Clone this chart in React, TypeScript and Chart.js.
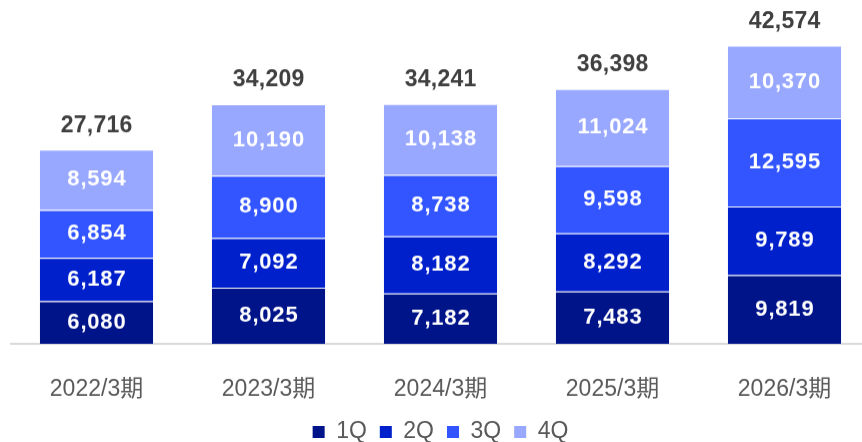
import { useEffect, useRef } from 'react';
import { Chart, registerables } from 'chart.js';

Chart.register(...registerables);

const categories = ['2022/3期', '2023/3期', '2024/3期', '2025/3期', '2026/3期'];
const q1 = [6080, 8025, 7182, 7483, 9819];
const q2 = [6187, 7092, 8182, 8292, 9789];
const q3 = [6854, 8900, 8738, 9598, 12595];
const q4 = [8594, 10190, 10138, 11024, 10370];
const totals = [27716, 34209, 34241, 36398, 42574];
const seriesNames = ['1Q', '2Q', '3Q', '4Q'];
const seriesColors = ['#001489', '#0020CC', '#3355FF', '#99A8FF'];

const fmt = (v: number) => v.toLocaleString('en-US');

const labelsPlugin = {
  id: 'valueLabels',
  afterDatasetsDraw(chart: any) {
    const ctx = chart.ctx as CanvasRenderingContext2D;
    ctx.save();
    ctx.textAlign = 'center';
    ctx.textBaseline = 'middle';
    chart.data.datasets.forEach((ds: any, di: number) => {
      const meta = chart.getDatasetMeta(di);
      meta.data.forEach((bar: any, i: number) => {
        const p = bar.getProps(['x', 'y', 'base'], true);
        ctx.font = 'bold 22px "Liberation Sans", Arial, sans-serif';
        (ctx as any).letterSpacing = '0.8px';
        ctx.fillStyle = '#ffffff';
        ctx.fillText(fmt(ds.data[i]), p.x + 0.4, (p.y + p.base) / 2);
      });
    });
    const lastMeta = chart.getDatasetMeta(chart.data.datasets.length - 1);
    lastMeta.data.forEach((bar: any, i: number) => {
      const p = bar.getProps(['x', 'y'], true);
      ctx.font = 'bold 23px "Liberation Sans", Arial, sans-serif';
      (ctx as any).letterSpacing = '0.25px';
      ctx.fillStyle = '#404040';
      ctx.fillText(fmt(totals[i]), p.x + 0.1, p.y - 24);
    });
    ctx.restore();
  },
};

export default function App() {
  const canvasRef = useRef<HTMLCanvasElement | null>(null);

  useEffect(() => {
    if (!canvasRef.current) return;
    const series = [q1, q2, q3, q4];
    const chart = new Chart(canvasRef.current, {
      type: 'bar',
      data: {
        labels: categories,
        datasets: series.map((d, i) => ({
          label: seriesNames[i],
          data: d,
          backgroundColor: seriesColors[i],
          borderColor: 'rgba(255,255,255,0.35)',
          borderWidth: 1,
          borderSkipped: 'bottom' as const,
          categoryPercentage: 1,
          barPercentage: 0.669,
        })),
      },
      options: {
        animation: false,
        responsive: true,
        maintainAspectRatio: false,
        layout: { padding: { left: 10.5, right: 10.5, top: 28.6, bottom: 0 } },
        plugins: {
          legend: {
            position: 'bottom',
            labels: {
              boxWidth: 12,
              boxHeight: 12,
              padding: 13,
              color: '#595959',
              font: { size: 23, family: '"Liberation Sans", Arial, sans-serif' },
              generateLabels: (chart: any) =>
                chart.data.datasets.map((ds: any, i: number) => ({
                  text: ds.label,
                  fillStyle: ds.backgroundColor,
                  strokeStyle: ds.backgroundColor,
                  lineWidth: 0,
                  fontColor: '#595959',
                  hidden: false,
                  datasetIndex: i,
                })),
            },
          },
          tooltip: { enabled: false },
        },
        scales: {
          x: {
            stacked: true,
            grid: { display: false },
            border: { display: true, color: '#d9d9d9', width: 2 },
            ticks: {
              color: '#595959',
              padding: 24,
              font: { size: 23, family: '"Liberation Sans", Arial, "Noto Sans CJK JP", sans-serif' },
            },
            afterFit: (scale: any) => {
              scale.height = 63.5;
            },
          },
          y: {
            stacked: true,
            display: false,
            min: 0,
            max: 45000,
          },
        },
      },
      plugins: [labelsPlugin],
    });
    return () => chart.destroy();
  }, []);

  return (
    <div style={{ position: 'fixed', left: 0, top: 0, width: 881, height: 452.5 }}>
      <canvas ref={canvasRef} />
    </div>
  );
}
